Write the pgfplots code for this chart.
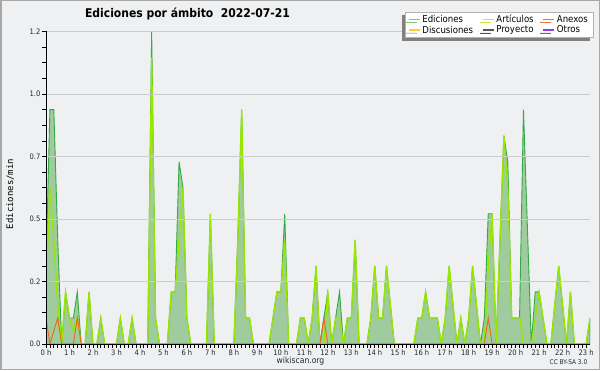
\documentclass[border=0pt]{standalone}
\usepackage{fontspec}
\setmainfont{DejaVu Sans Condensed}
\setmonofont{DejaVu Sans Mono}
\usepackage{pgfplots}
\pgfplotsset{compat=1.18}
\usepackage{pgfplotstable}
\usetikzlibrary{shadows}

\definecolor{bg}{HTML}{EEF0F2}
\definecolor{framec}{HTML}{A8A8A8}
\definecolor{gridc}{HTML}{CCCCCC}
\definecolor{fillgreen}{HTML}{9FCB9F}
\definecolor{edgegreen}{HTML}{33AA44}
\definecolor{limec}{HTML}{99E600}
\definecolor{orangec}{HTML}{EE6611}
\definecolor{legE}{HTML}{80C880}
\definecolor{legA}{HTML}{C0EA40}
\definecolor{legX}{HTML}{F07040}
\definecolor{legD}{HTML}{FFCC33}
\definecolor{legP}{HTML}{555555}
\definecolor{legO}{HTML}{9040E0}

\pgfplotstableread{
i e a x
0 0.3 0.2 0.1
1 0.9 0.6 0
2 0.9 0.4 0.05
3 0.4 0.15 0.1
4 0 0 0
5 0.2 0.2 0
6 0.1 0.1 0
7 0.1 0.05 0
8 0.2 0.1 0.1
9 0 0 0
10 0 0 0
11 0.2 0.2 0
12 0 0 0
13 0 0 0
14 0.1 0.1 0
15 0 0 0
16 0 0 0
17 0 0 0
18 0 0 0
19 0.1 0.1 0
20 0 0 0
21 0 0 0
22 0.1 0.1 0
23 0 0 0
24 0 0 0
25 0 0 0
26 0 0 0
27 1.2 1.1 0
28 0.1 0.1 0
29 0 0 0
30 0 0 0
31 0 0 0
32 0.2 0.2 0
33 0.2 0.2 0
34 0.7 0.4 0
35 0.6 0.6 0
36 0.1 0.1 0
37 0 0 0
38 0 0 0
39 0 0 0
40 0 0 0
41 0 0 0
42 0.5 0.5 0
43 0 0 0
44 0 0 0
45 0 0 0
46 0 0 0
47 0 0 0
48 0 0 0
49 0.4 0.4 0
50 0.9 0.9 0
51 0.1 0.1 0
52 0.1 0.1 0
53 0 0 0
54 0 0 0
55 0 0 0
56 0 0 0
57 0 0 0
58 0.1 0.1 0
59 0.2 0.2 0
60 0.2 0.2 0
61 0.5 0.4 0
62 0 0 0
63 0 0 0
64 0 0 0
65 0.1 0.1 0
66 0.1 0.1 0
67 0 0 0
68 0.1 0.1 0
69 0.3 0.3 0
70 0 0 0
71 0.1 0 0.1
72 0.2 0.2 0
73 0 0 0
74 0.1 0.1 0
75 0.2 0.1 0
76 0 0 0
77 0.1 0.1 0
78 0.1 0.1 0
79 0.4 0.4 0
80 0 0 0
81 0 0 0
82 0 0 0
83 0.1 0.1 0
84 0.3 0.3 0
85 0.1 0.1 0
86 0.1 0.1 0
87 0.3 0.3 0
88 0.15 0.15 0
89 0 0 0
90 0 0 0
91 0 0 0
92 0 0 0
93 0 0 0
94 0 0 0
95 0.1 0.1 0
96 0.1 0.1 0
97 0.2 0.2 0
98 0.1 0.1 0
99 0.1 0.1 0
100 0.1 0.1 0
101 0 0 0
102 0.1 0.1 0
103 0.3 0.3 0
104 0.15 0.15 0
105 0 0 0
106 0.1 0.1 0
107 0 0 0
108 0.1 0.1 0
109 0.3 0.3 0
110 0.15 0.15 0
111 0 0 0
112 0.1 0 0
113 0.5 0.3 0.1
114 0.5 0.5 0
115 0 0 0
116 0.4 0.4 0
117 0.8 0.8 0
118 0.7 0.6 0
119 0.1 0.1 0
120 0.1 0.1 0
121 0.1 0.1 0
122 0.9 0 0
123 0.45 0 0
124 0 0 0
125 0.2 0.1 0
126 0.2 0.2 0
127 0.1 0.1 0
128 0 0 0
129 0 0 0
130 0.15 0.15 0
131 0.3 0.3 0
132 0.15 0.15 0
133 0 0 0
134 0.2 0.2 0
135 0 0 0
136 0 0 0
137 0 0 0
138 0 0 0
139 0.1 0.1 0
}\data

\begin{document}
\begin{tikzpicture}
\path[use as bounding box] (0pt,0pt) rectangle (600pt,370pt);
\draw[fill=bg, draw=framec, line width=1.5pt] (0.75pt,0.75pt) rectangle (599.25pt,369.25pt);
\begin{axis}[
  at={(46pt,26pt)}, anchor=south west,
  scale only axis, width=544pt, height=312.5pt,
  xmin=0, xmax=139, ymin=0, ymax=1.2,
  axis x line*=bottom, axis y line*=left,
  axis line style={black, line width=0.9pt, -},
  xtick={0,6,...,138},
  xticklabels={0 h,1 h,2 h,3 h,4 h,5 h,6 h,7 h,8 h,9 h,10 h,11 h,12 h,13 h,14 h,15 h,16 h,17 h,18 h,19 h,20 h,21 h,22 h,23 h},
  minor x tick num=5,
  ytick={0,0.24,0.48,0.72,0.96,1.2},
  yticklabels={0.0,0.2,0.5,0.7,1.0,1.2},
  minor y tick num=3,
  tick align=outside,
  major tick length=4pt, minor tick length=4pt,
  tick style={black, line width=0.7pt},
  ymajorgrids, major grid style={gridc, line width=0.8pt},
  axis on top,
  /pgf/number format/assume math mode=true,
  ticklabel style={font=\fontsize{7.5}{8}\selectfont, text=black!85},
  xticklabel style={inner sep=1.5pt},
  yticklabel style={inner sep=1.5pt},
  legend columns=3,
  legend cell align=left,
  legend style={at={(1.0055,1.0624)}, anchor=north east, draw=gray!60, fill=white,
    font=\fontsize{9.5}{10}\selectfont, inner xsep=3pt, inner ysep=1pt,
    row sep=-2.5pt,
    /tikz/every even column/.append style={column sep=7pt},
    drop shadow={shadow xshift=-3pt, shadow yshift=-3pt, fill=black!50, opacity=1}},
  legend image code/.code={\draw[#1, line width=1.3pt] (0pt,0.3pt) -- (11pt,0.3pt);},
]
\addplot[draw=edgegreen, fill=fillgreen, line width=0.9pt, forget plot] table[x=i,y=e]{\data} \closedcycle;
\addplot[draw=limec, line width=1.3pt, forget plot] table[x=i,y=a]{\data};
\addplot[draw=orangec, line width=0.9pt, forget plot] table[x=i,y=x]{\data};
\addlegendimage{draw=legE}\addlegendentry{Ediciones}
\addlegendimage{draw=legA}\addlegendentry{Artículos}
\addlegendimage{draw=legX}\addlegendentry{Anexos}
\addlegendimage{draw=legD}\addlegendentry{Discusiones}
\addlegendimage{draw=legP}\addlegendentry{Proyecto}
\addlegendimage{draw=legO}\addlegendentry{Otros}
\end{axis}
\node[font=\bfseries\fontsize{12}{12}\selectfont] at (187.5pt,356pt) {Ediciones por ámbito\ \ 2022-07-21};
\node[rotate=90, font=\ttfamily\fontsize{9}{9}\selectfont] at (10pt,176pt) {Ediciones/min};
\node[font=\fontsize{8.5}{9}\selectfont, text=black!85] at (300.5pt,9pt) {wikiscan.org};
\node[font=\fontsize{6.5}{7}\selectfont, text=black!85] at (568.5pt,8pt) {CC BY-SA 3.0};
\end{tikzpicture}
\end{document}
